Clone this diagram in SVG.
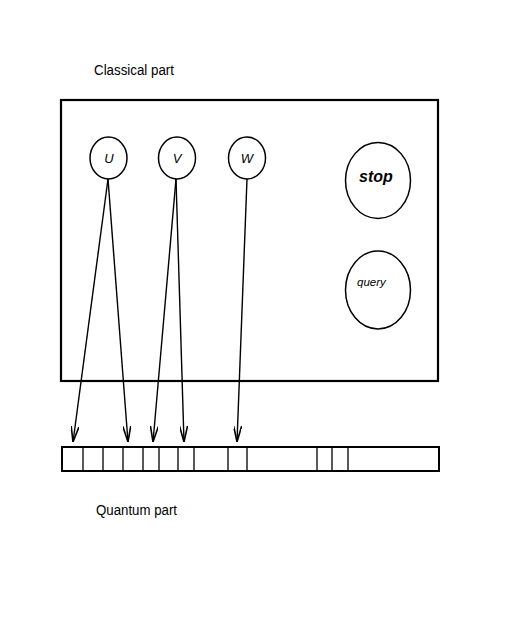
<svg xmlns="http://www.w3.org/2000/svg" width="530" height="624" viewBox="0 0 530 624">
<style>
  .t{font-family:"Liberation Sans",Arial,sans-serif;fill:#000}
  .node{fill:#fff;stroke:#000;stroke-width:1.5}
  .conn{stroke:#000;stroke-width:1.4;fill:none;marker-end:url(#ah)}
  .cell{fill:none;stroke:#000;stroke-width:1.3}
</style>
<defs>
  <marker id="ah" viewBox="0 0 16 8" refX="16" refY="4" markerWidth="16" markerHeight="8" markerUnits="userSpaceOnUse" orient="auto">
    <path d="M0,0 L16,4 L0,8" fill="none" stroke="#000" stroke-width="1.6"/>
  </marker>
</defs>
<rect width="530" height="624" fill="#fff"/>
<text class="t" x="94" y="75" font-size="14" textLength="80" lengthAdjust="spacingAndGlyphs">Classical part</text>
<g id="classical">
  <rect x="61" y="100" width="377" height="281" fill="none" stroke="#000" stroke-width="2.2"/>
</g>
<g id="connectors">
  <line class="conn" x1="108" y1="179" x2="73" y2="442"/>
  <line class="conn" x1="108" y1="179" x2="128" y2="442"/>
  <line class="conn" x1="176" y1="179" x2="153" y2="442"/>
  <line class="conn" x1="176" y1="179" x2="184" y2="442"/>
  <line class="conn" x1="247" y1="179" x2="237" y2="442"/>
</g>
<g id="node-U">
  <ellipse class="node" cx="108.5" cy="158" rx="18.5" ry="21"/>
  <text class="t" x="109" y="163" font-size="13" font-style="italic" text-anchor="middle">U</text>
</g>
<g id="node-V">
  <ellipse class="node" cx="177" cy="158" rx="18.5" ry="21"/>
  <text class="t" x="177" y="163" font-size="13" font-style="italic" text-anchor="middle">V</text>
</g>
<g id="node-W">
  <ellipse class="node" cx="247" cy="158" rx="18.5" ry="21"/>
  <text class="t" x="247" y="163" font-size="13" font-style="italic" text-anchor="middle">W</text>
</g>
<g id="node-stop">
  <ellipse class="node" cx="378" cy="180.5" rx="32.5" ry="38"/>
  <text class="t" x="376" y="182" font-size="16" font-style="italic" font-weight="bold" text-anchor="middle">stop</text>
</g>
<g id="node-query">
  <ellipse class="node" cx="378" cy="290" rx="32.5" ry="39"/>
  <text class="t" x="357" y="286" font-size="11.5" font-style="italic">query</text>
</g>
<g id="register">
  <rect x="62" y="447" width="377" height="24" fill="none" stroke="#000" stroke-width="2"/>
  <path class="cell" d="M83,447V471 M103,447V471 M123,447V471 M143,447V471 M159,447V471 M178,447V471 M194,447V471 M228,447V471 M247,447V471 M317,447V471 M332,447V471 M348,447V471"/>
</g>
<text class="t" x="96" y="515" font-size="14" textLength="81" lengthAdjust="spacingAndGlyphs">Quantum part</text>
</svg>
